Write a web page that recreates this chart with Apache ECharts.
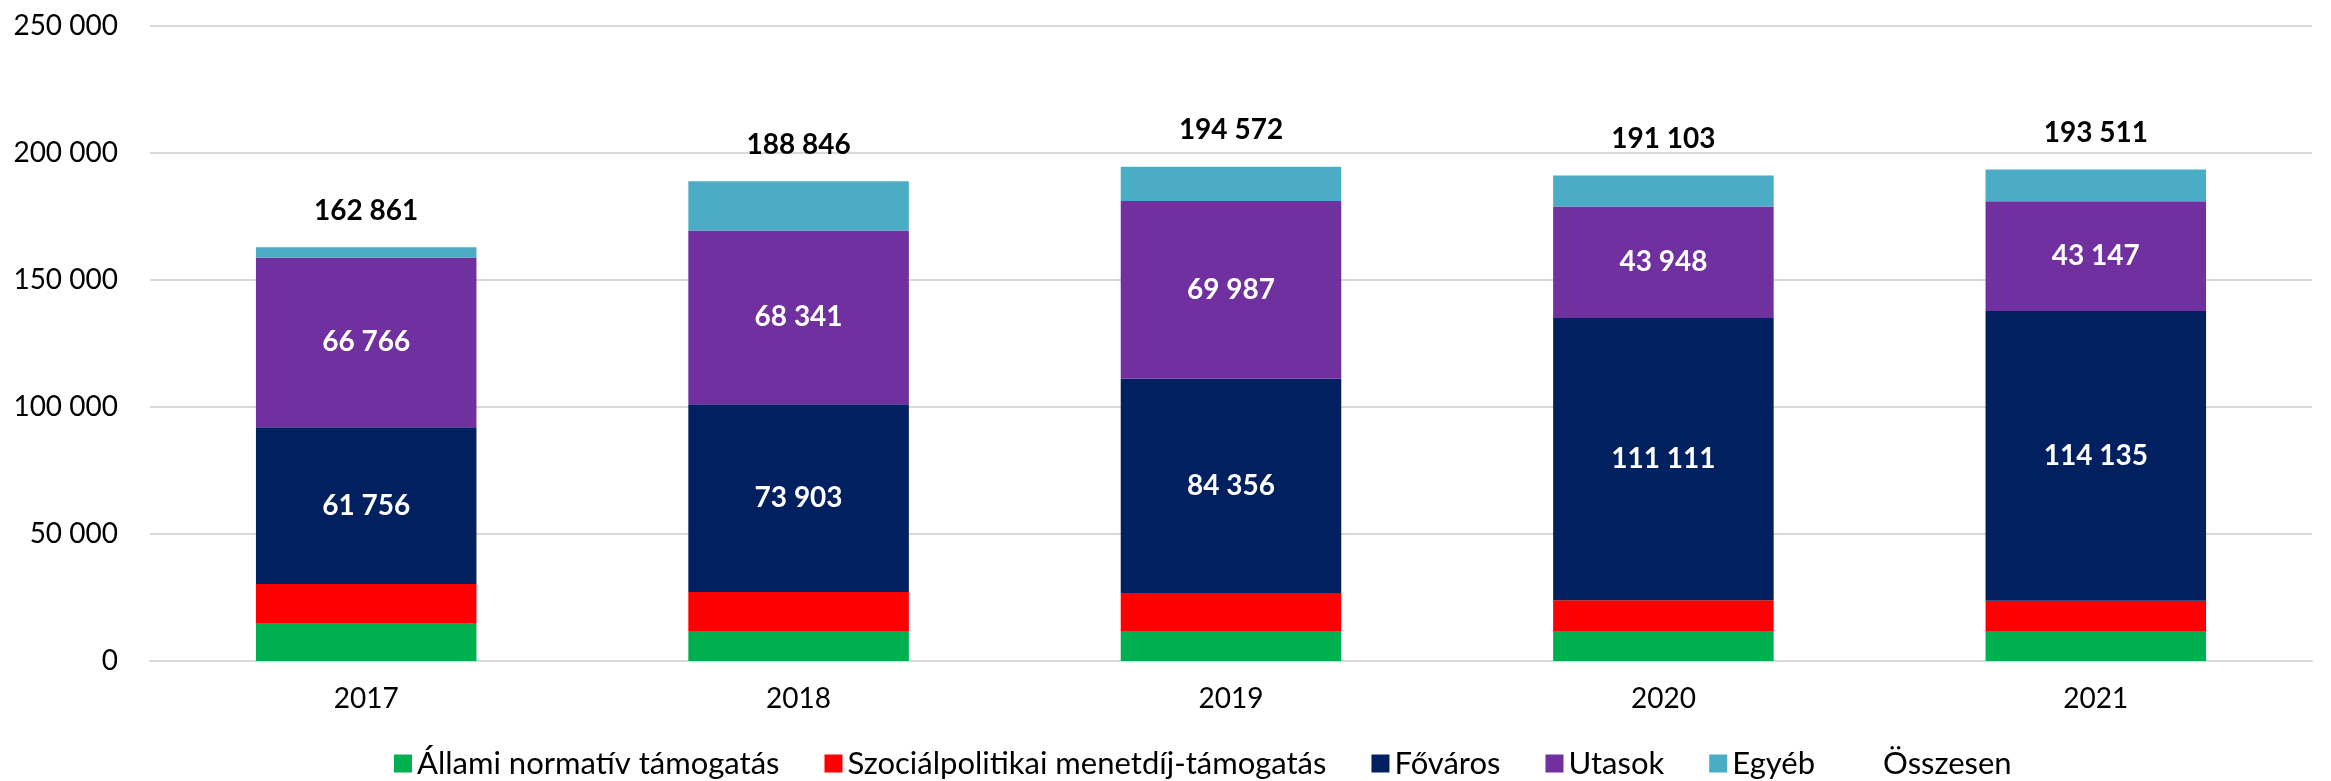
<!DOCTYPE html>
<html>
<head>
<meta charset="utf-8">
<script src="https://cdn.jsdelivr.net/npm/echarts@6/dist/echarts.min.js"></script>
<style>
  html, body { margin: 0; padding: 0; background: #fff; }
  #chart { width: 2331px; height: 781px; }
</style>
</head>
<body>
<div id="chart"></div>
<script>
const years = ['2017', '2018', '2019', '2020', '2021'];
const allami = [15000, 11800, 11800, 11800, 11800];
const szocial = [15300, 15400, 15000, 12100, 11900];
const fovaros = [61756, 73903, 84356, 111111, 114135];
const utasok = [66766, 68341, 69987, 43948, 43147];
const egyeb = [4039, 19402, 13429, 12144, 12529];
const osszesen = [162861, 188846, 194572, 191103, 193511];

const FONT = 'Lato, "Open Sans", sans-serif';

/* szám formázás szóközzel */
function fmt(v) {
    return String(Math.round(v)).replace(/\B(?=(\d{3})+(?!\d))/g, ' ');
}

function barSeries(name, data, color, showLabel) {
    return {
        name: name,
        type: 'bar',
        stack: 'total',
        barWidth: '51%',
        data: data,
        itemStyle: { color: color },
        label: {
            show: showLabel,
            position: 'inside',
            color: '#fff',
            fontWeight: 'bold',
            fontSize: 28,
            fontFamily: FONT,
            formatter: p => fmt(p.value)
        }
    };
}

let myEchart = echarts.init(document.getElementById('chart'));
let option = {
    animation: false,
    textStyle: { fontFamily: FONT },
    grid: { left: 150, right: 19, top: 26, bottom: 120, containLabel: false },
    legend: {
        bottom: -3,
        left: 389,
        itemWidth: 18,
        itemHeight: 18,
        itemGap: 45,
        textStyle: { fontSize: 31, color: '#000', fontFamily: FONT },
        data: [
            { name: 'Állami normatív támogatás', icon: 'rect' },
            { name: 'Szociálpolitikai menetdíj-támogatás', icon: 'rect' },
            { name: 'Főváros', icon: 'rect' },
            { name: 'Utasok', icon: 'rect' },
            { name: 'Egyéb', icon: 'rect' },
            { name: 'Összesen', icon: 'rect', itemStyle: { opacity: 0 } }
        ]
    },
    xAxis: {
        type: 'category',
        data: years,
        axisTick: { show: false },
        axisLine: { lineStyle: { color: '#d9d9d9', width: 2 } },
        axisLabel: { fontSize: 28, color: '#000', margin: 24, fontFamily: FONT }
    },
    yAxis: {
        type: 'value',
        min: 0,
        max: 250000,
        interval: 50000,
        axisLine: { show: false },
        axisTick: { show: false },
        splitLine: { lineStyle: { color: '#d9d9d9', width: 2 } },
        axisLabel: {
            fontSize: 28, color: '#000', margin: 32, fontFamily: FONT,
            formatter: v => fmt(v)
        }
    },
    series: [
        barSeries('Állami normatív támogatás', allami, '#00b050', false),
        barSeries('Szociálpolitikai menetdíj-támogatás', szocial, '#ff0000', false),
        barSeries('Főváros', fovaros, '#002060', true),
        barSeries('Utasok', utasok, '#7030a0', true),
        barSeries('Egyéb', egyeb, '#4bacc6', false),
        {
            name: 'Összesen',
            type: 'line',
            data: osszesen,
            symbol: 'circle',
            symbolSize: 1,
            showSymbol: true,
            itemStyle: { color: 'rgba(0,0,0,0)' },
            lineStyle: { opacity: 0 },
            label: {
                show: true,
                position: 'top',
                distance: 22,
                color: '#000',
                fontWeight: 'bold',
                fontSize: 28,
                fontFamily: FONT,
                formatter: p => fmt(p.value)
            }
        }
    ]
};
myEchart.setOption(option);
</script>
</body>
</html>
